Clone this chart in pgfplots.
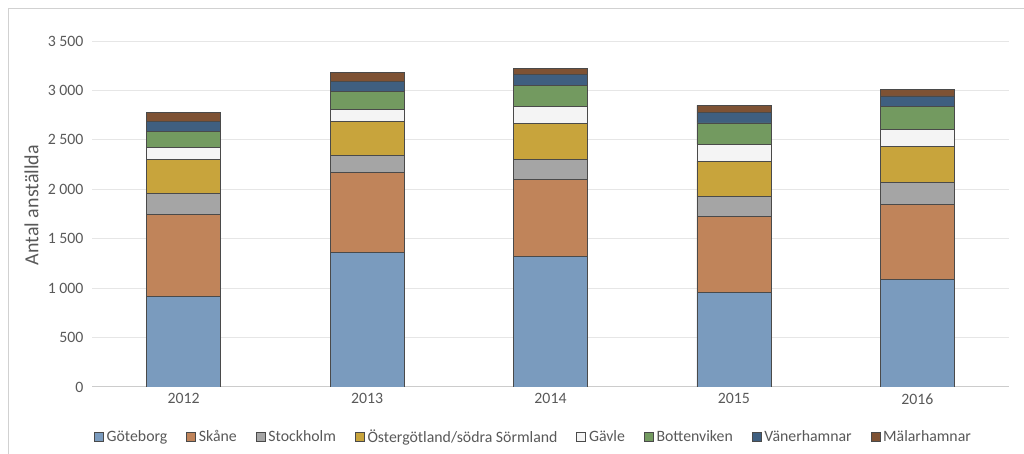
\documentclass[border=0pt]{standalone}
\usepackage{pgfplots}
\usepackage{pgfplotstable}
\usepackage{fontspec}
\setmainfont{Carlito}
\pgfplotsset{compat=1.18}

\definecolor{cGbg}{HTML}{7A9BBE}
\definecolor{cSkane}{HTML}{C0845A}
\definecolor{cSthlm}{HTML}{A5A5A5}
\definecolor{cOst}{HTML}{C8A43C}
\definecolor{cGavle}{HTML}{F4F4F4}
\definecolor{cBott}{HTML}{739A60}
\definecolor{cVan}{HTML}{3F5F80}
\definecolor{cMal}{HTML}{7E5234}
\definecolor{txt}{HTML}{595959}
\definecolor{grid}{HTML}{E6E6E6}
\definecolor{edge}{HTML}{4A4A4A}

% Antal anställda per hamn och år (0 = 2012 ... 4 = 2016)
\pgfplotstableread{
x Gbg  Skane Sthlm Ost Gavle Bott Van Mal
0 920  826   209   343 122   168  102 88
1 1365 802   176   340 128   182  101 88
2 1325 778   202   357 172   213  111 67
3 957  765   202   361 169   218  106 70
4 1085 762   223   360 176   228  111 65
}\hamnar

\begin{document}
\begin{tikzpicture}
\path[use as bounding box] (0,0) rectangle (1024bp,454bp);
\draw[color=black!18, line width=1bp] (8bp,0) -- (8bp,445bp) -- (1024bp,445bp);
\begin{axis}[
  at={(92bp,67bp)}, anchor=south west,
  scale only axis, width=917bp, height=346bp,
  ybar stacked, bar width=74bp,
  xmin=-0.5, xmax=4.5, ymin=0, ymax=3500,
  xtick={0,1,2,3,4}, xticklabels={2012,2013,2014,2015,2016},
  ytick={0,500,1000,1500,2000,2500,3000,3500},
  yticklabels={0,500,1 000,1 500,2 000,2 500,3 000,3 500},
  font=\fontsize{15.8bp}{18bp}\selectfont,
  tick label style={color=txt},
  xticklabel style={yshift=-3bp},
  yticklabel style={xshift=-5bp},
  axis line style={draw=none},
  major tick length=0pt,
  ymajorgrids, grid style={color=grid, line width=1bp},
  ylabel={Antal anställda},
  ylabel style={color=txt, font=\fontsize{20bp}{22bp}\selectfont,
    at={(axis description cs:-0.066,0.526)}, anchor=center},
  every axis plot/.append style={draw=edge, line width=0.7bp},
  legend columns=8,
  legend style={at={(axis description cs:0.482,-0.1445)}, anchor=center, draw=none,
    font=\fontsize{15.8bp}{18bp}\selectfont, text=txt,
    /tikz/every even column/.append style={column sep=16bp},
    nodes={inner xsep=3bp}},
  legend image code/.code={\draw[#1, line width=0.6bp] (0bp,-4.5bp) rectangle (9bp,4.5bp);},
]
\addplot[fill=cGbg] table[x=x, y=Gbg] {\hamnar};
\addplot[fill=cSkane] table[x=x, y=Skane] {\hamnar};
\addplot[fill=cSthlm] table[x=x, y=Sthlm] {\hamnar};
\addplot[fill=cOst] table[x=x, y=Ost] {\hamnar};
\addplot[fill=cGavle] table[x=x, y=Gavle] {\hamnar};
\addplot[fill=cBott] table[x=x, y=Bott] {\hamnar};
\addplot[fill=cVan] table[x=x, y=Van] {\hamnar};
\addplot[fill=cMal] table[x=x, y=Mal] {\hamnar};
\draw[color=black!20, line width=1bp] (axis cs:-0.5,0) -- (axis cs:4.5,0);
\legend{Göteborg,Skåne,Stockholm,Östergötland/södra Sörmland,Gävle,Bottenviken,Vänerhamnar,Mälarhamnar}
\end{axis}
\end{tikzpicture}
\end{document}
